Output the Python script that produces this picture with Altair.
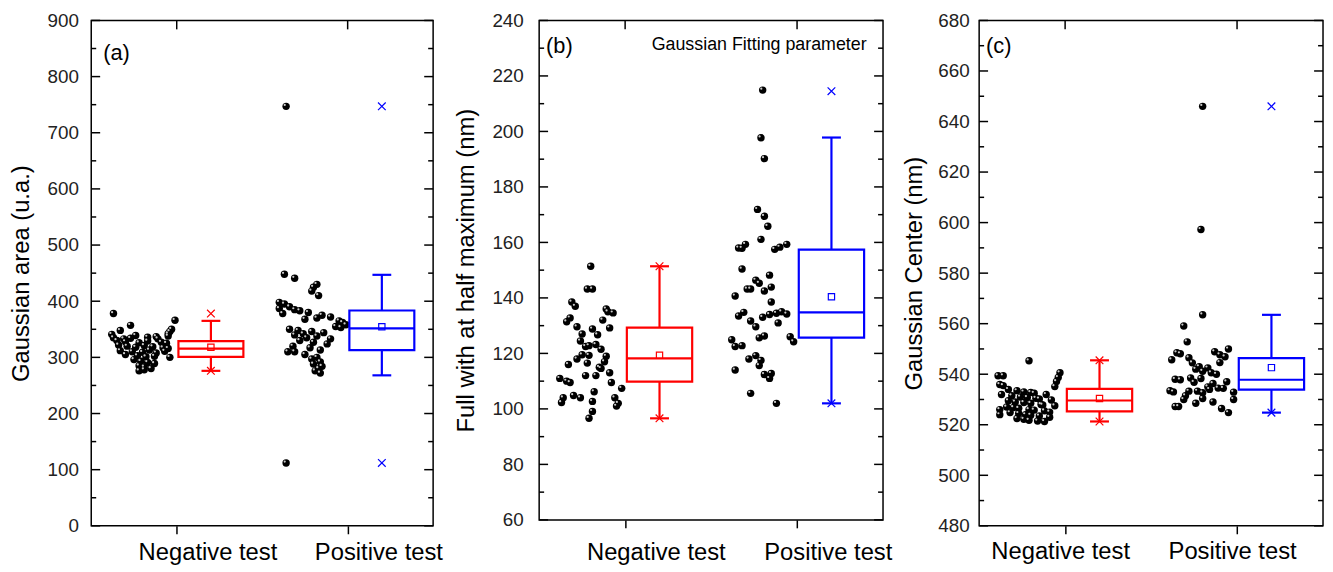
import altair as alt
import pandas as pd

FONT = "Liberation Sans"
CATEGORIES = ["Negative test", "Positive test"]
GROUPS = ["neg", "pos"]
COLORS = ["#ff0000", "#0000ff"]

# ---------------- panel (a): Gaussian area ----------------
a_neg_y = [378, 366, 357, 348, 350, 346, 342, 338, 341, 339, 335, 333, 334, 336, 337, 333, 330, 328, 326, 329,
           327, 325, 322, 320, 318, 321, 319, 317, 316, 312, 310, 309, 313, 308, 311, 305, 303, 301, 302, 300,
           296, 293, 291, 289, 285, 283, 280, 278, 276]
a_neg_x = [0.63, 0.99, 0.73, 0.67, 0.97, 0.96, 0.95, 0.95, 0.62, 0.76, 0.63, 0.69, 0.73, 0.83, 0.88, 0.89, 0.65, 0.70, 0.78, 0.83,
           0.91, 0.94, 0.66, 0.71, 0.76, 0.81, 0.86, 0.92, 0.95, 0.67, 0.74, 0.80, 0.84, 0.88, 0.93, 0.70, 0.77, 0.82, 0.87, 0.96,
           0.75, 0.79, 0.83, 0.87, 0.78, 0.81, 0.85, 0.81, 0.78]
a_pos_y = [747, 112, 448, 441, 430, 425, 418, 410, 398, 395, 390, 387, 385, 383, 380, 378, 375, 372, 370, 368,
           365, 362, 358, 355, 353, 350, 348, 346, 344, 342, 340, 338, 335, 333, 330, 327, 324, 320, 317, 313,
           310, 310, 305, 300, 297, 292, 288, 284, 280, 276, 272]
a_pos_x = [1.64, 1.64, 1.63, 1.69, 1.82, 1.80, 1.79, 1.83, 1.60, 1.63, 1.66, 1.60, 1.69, 1.72, 1.77, 1.62, 1.85, 1.90, 1.82, 1.75,
           1.95, 1.97, 1.99, 1.93, 1.96, 1.66, 1.71, 1.79, 1.86, 1.74, 1.69, 1.82, 1.76, 1.90, 1.72, 1.80, 1.88, 1.68, 1.78, 1.84,
           1.65, 1.69, 1.75, 1.82, 1.79, 1.84, 1.80, 1.85, 1.83, 1.81, 1.84]
# box statistics [negative, positive]
a_q1 = [301, 313]
a_med = [315.5, 351.5]
a_q3 = [329, 383.5]
a_mean = [318, 354.5]
a_wlo = [276, 268]
a_whi = [365, 447]
a_min = [276, 112]
a_max = [378, 747]

# ---------------- panel (b): FWHM ----------------
b_neg_y = [151.4, 143.2, 143.2, 138.5, 137.0, 136.0, 135.0, 134.6, 132.8, 131.4, 132.0, 129.6, 129.2, 128.8, 127.0, 124.5, 126.7,
           122.5, 122.8, 123.2, 121.5, 119.5, 119.3, 119.0, 117.0, 118.0, 116.0, 116.5, 115.0, 114.6, 113.0, 112.0, 112.0,
           111.0, 110.0, 109.5, 109.5, 107.4, 106.2, 104.8, 104.0, 104.0, 102.3, 104.0, 102.0, 101.0, 102.7, 99.1, 96.6]
b_neg_x = [0.80, 0.78, 0.81, 0.69, 0.71, 0.89, 0.90, 0.93, 0.68, 0.66, 0.87, 0.72, 0.91, 0.81, 0.75, 0.74, 0.84,
           0.77, 0.79, 0.83, 0.86, 0.75, 0.79, 0.89, 0.88, 0.72, 0.67, 0.78, 0.85, 0.86, 0.91, 0.77, 0.83,
           0.62, 0.66, 0.68, 0.92, 0.98, 0.82, 0.70, 0.74, 0.64, 0.63, 0.94, 0.96, 0.95, 0.81, 0.81, 0.79]
b_pos_y = [214.9, 197.7, 190.2, 171.9, 169.4, 165.8, 161.1, 159.3, 157.9, 157.5, 158.3, 159.3, 150.4, 148.2, 146.4, 145.3,
           142.5, 143.9, 143.2, 143.2, 138.5, 134.8, 133.5, 131.7, 133.0, 134.0, 134.5, 135.0, 134.2, 131.0, 129.6, 125.6,
           126.3, 126.0, 124.2, 122.8, 119.2, 117.5, 118.0, 115.6, 112.4, 111.0, 112.8, 105.6, 102.0, 124.9, 122.5, 140.7,
           158.0, 114.0]
b_pos_x = [1.80, 1.79, 1.81, 1.77, 1.81, 1.83, 1.79, 1.70, 1.68, 1.87, 1.90, 1.94, 1.68, 1.84, 1.76, 1.78,
           1.81, 1.85, 1.73, 1.71, 1.85, 1.69, 1.66, 1.73, 1.80, 1.84, 1.88, 1.91, 1.94, 1.89, 1.76, 1.78,
           1.81, 1.96, 1.98, 1.68, 1.76, 1.79, 1.72, 1.78, 1.81, 1.84, 1.85, 1.73, 1.88, 1.62, 1.64, 1.64,
           1.66, 1.64]
b_q1 = [109.8, 125.7]
b_med = [118.2, 134.8]
b_q3 = [129.3, 157.4]
b_mean = [119.3, 140.4]
b_wlo = [96.6, 102.0]
b_whi = [151.4, 197.8]
b_min = [96.6, 102.0]
b_max = [151.4, 214.5]

# ---------------- panel (c): Gaussian center ----------------
c_neg_y = [545.3, 539.4, 539.4, 535.9, 535.5, 540.6, 538.7, 537.1, 535.1,
           533.5, 533.0, 532.8, 532.5, 532.0, 531.5, 531.0, 530.8, 530.5, 530.2, 529.8, 529.5, 529.0, 528.8, 528.5,
           528.0, 527.8, 527.5, 527.0, 526.8, 526.5, 526.0, 525.8, 525.5, 525.0, 524.8, 524.5, 524.0, 523.8, 523.5,
           523.0, 522.5, 522.2, 521.8, 521.5, 521.3, 534.0, 532.0, 526.0, 524.0]
c_neg_x = [0.79, 0.61, 0.64, 0.62, 0.64, 0.97, 0.96, 0.95, 0.94,
           0.72, 0.76, 0.80, 0.82, 0.89, 0.69, 0.74, 0.78, 0.83, 0.85, 0.92, 0.67, 0.71, 0.76, 0.80,
           0.86, 0.87, 0.94, 0.66, 0.70, 0.73, 0.79, 0.82, 0.88, 0.91, 0.68, 0.73, 0.77, 0.80, 0.85,
           0.91, 0.72, 0.76, 0.79, 0.84, 0.88, 0.67, 0.63, 0.62, 0.62]
c_pos_y = [646.0, 597.3, 563.5, 559.1, 552.8, 548.5, 548.1, 548.9, 547.7, 546.9, 550.0,
           546.5, 544.5, 542.0, 543.0, 541.2, 542.5, 540.6, 544.6,
           537.8, 538.5, 536.8, 538.3, 535.0, 534.0, 536.3, 534.5, 534.4, 537.0,
           533.5, 533.0, 533.3, 533.3, 532.7, 532.9, 530.0, 531.5, 530.4, 530.0,
           527.2, 527.2, 526.4, 524.8, 545.7, 538.0, 540.0, 528.5, 529.0]
c_pos_x = [1.80, 1.79, 1.80, 1.69, 1.71, 1.65, 1.67, 1.87, 1.90, 1.93, 1.95,
           1.72, 1.74, 1.76, 1.78, 1.80, 1.83, 1.85, 1.90,
           1.67, 1.73, 1.75, 1.79, 1.83, 1.84, 1.86, 1.89, 1.92, 1.94,
           1.61, 1.63, 1.72, 1.77, 1.80, 1.98, 1.69, 1.70, 1.80, 1.98,
           1.64, 1.66, 1.91, 1.95, 1.62, 1.64, 1.88, 1.76, 1.86]
c_q1 = [525.3, 533.9]
c_med = [529.6, 537.8]
c_q3 = [534.2, 546.4]
c_mean = [530.4, 542.6]
c_wlo = [521.3, 524.8]
c_whi = [545.5, 563.5]
c_min = [521.3, 524.8]
c_max = [545.5, 646.0]

BOX_X = [1.2, 2.2]
BOX_HALF = 0.19
CAP_HALF = 0.055
X_DOMAIN = [0.5, 2.5]

color_enc = alt.Color("grp:N", scale=alt.Scale(domain=GROUPS, range=COLORS), legend=None)


def make_panel(neg_y, neg_x, pos_y, pos_x, q1, med, q3, mean, wlo, whi, mn, mx,
               ydom, major, minor, ytitle, w, h, label_dx, xlab_pad, ylab_pad, title_pad,
               tag, tag_x, tag_y, note=None):
    xs = alt.Scale(domain=X_DOMAIN, nice=False, zero=False)
    ys = alt.Scale(domain=ydom, nice=False, zero=False)

    label_expr = "datum.value == 1 ? '%s' : '%s'" % (CATEGORIES[0], CATEGORIES[1])
    xaxis = alt.Axis(values=[1, 2], labelExpr=label_expr, ticks=True, tickSize=8, tickWidth=1.5,
                     tickColor="black", domain=False, grid=False, labelFont=FONT, labelFontSize=24,
                     labelColor="black", labelPadding=xlab_pad, labelOffset=label_dx, labelFlush=False,
                     labelOverlap=False, title=None)
    yaxis = alt.Axis(values=major, ticks=False, domain=False, grid=False, labelFont=FONT,
                     labelFontSize=19, labelColor="#222222", labelPadding=ylab_pad, labelFlush=False,
                     labelOverlap=False, title=ytitle, titleFont=FONT, titleFontSize=24,
                     titleFontWeight="normal", titleColor="black", titlePadding=title_pad)

    def X(f):
        return alt.X(f, type="quantitative", scale=xs, axis=xaxis, title=None)

    def Y(f):
        return alt.Y(f, type="quantitative", scale=ys, axis=yaxis, title=ytitle)

    pts = pd.DataFrame({"x": neg_x + pos_x, "y": neg_y + pos_y})
    box = pd.DataFrame({"grp": GROUPS, "xc": BOX_X, "q1": q1, "med": med, "q3": q3, "mean": mean,
                        "wlo": wlo, "whi": whi, "mn": mn, "mx": mx})
    box["x1"] = box["xc"] - BOX_HALF
    box["x2"] = box["xc"] + BOX_HALF
    box["c1"] = box["xc"] - CAP_HALF
    box["c2"] = box["xc"] + CAP_HALF

    dots = alt.Chart(pts).mark_circle(size=56, color="black", opacity=1).encode(x=X("x"), y=Y("y"))
    shine = alt.Chart(pts).mark_circle(size=5, color="#e0e0e0", opacity=0.9,
                                       xOffset=-1.4, yOffset=-1.4).encode(x=X("x"), y=Y("y"))

    bc = alt.Chart(box)
    rect = bc.mark_rect(filled=False, strokeWidth=2.2).encode(x=X("x1"), x2="x2", y=Y("q1"), y2="q3", color=color_enc)
    medl = bc.mark_rule(strokeWidth=2.2).encode(x=X("x1"), x2="x2", y=Y("med"), color=color_enc)
    wup = bc.mark_rule(strokeWidth=2.2).encode(x=X("xc"), y=Y("q3"), y2="whi", color=color_enc)
    wdn = bc.mark_rule(strokeWidth=2.2).encode(x=X("xc"), y=Y("wlo"), y2="q1", color=color_enc)
    cup = bc.mark_rule(strokeWidth=2.2).encode(x=X("c1"), x2="c2", y=Y("whi"), color=color_enc)
    cdn = bc.mark_rule(strokeWidth=2.2).encode(x=X("c1"), x2="c2", y=Y("wlo"), color=color_enc)
    meanm = bc.mark_point(shape="square", filled=False, size=40, strokeWidth=1.2, opacity=1).encode(
        x=X("xc"), y=Y("mean"), color=color_enc)
    xshape = "M-1,-1L1,1M1,-1L-1,1"
    mxm = bc.mark_point(shape=xshape, filled=False, size=60, strokeWidth=1.2, opacity=1).encode(
        x=X("xc"), y=Y("mx"), color=color_enc)
    mnm = bc.mark_point(shape=xshape, filled=False, size=60, strokeWidth=1.2, opacity=1).encode(
        x=X("xc"), y=Y("mn"), color=color_enc)

    # inward frame ticks
    maj = pd.DataFrame({"y": major})
    mnr = pd.DataFrame({"y": minor})
    tl_maj = alt.Chart(maj).mark_rule(color="black", strokeWidth=1.5).encode(
        y=Y("y"), x=alt.value(0), x2=alt.value(9))
    tr_maj = alt.Chart(maj).mark_rule(color="black", strokeWidth=1.5).encode(
        y=Y("y"), x=alt.value(w), x2=alt.value(w - 9))
    tl_min = alt.Chart(mnr).mark_rule(color="black", strokeWidth=1.5).encode(
        y=Y("y"), x=alt.value(0), x2=alt.value(5))
    tr_min = alt.Chart(mnr).mark_rule(color="black", strokeWidth=1.5).encode(
        y=Y("y"), x=alt.value(w), x2=alt.value(w - 5))
    top_t = alt.Chart(pd.DataFrame({"x": [1, 2]})).mark_rule(color="black", strokeWidth=1.5).encode(
        x=X("x"), y=alt.value(0), y2=alt.value(9))

    tagc = alt.Chart(pd.DataFrame({"t": [tag]})).mark_text(
        font=FONT, fontSize=22, align="left", baseline="middle", color="black").encode(
        text="t:N", x=alt.value(tag_x), y=alt.value(tag_y))

    layers = [dots, shine, rect, medl, wup, wdn, cup, cdn, meanm, mxm, mnm,
              tl_maj, tr_maj, tl_min, tr_min, top_t, tagc]
    if note is not None:
        notec = alt.Chart(pd.DataFrame({"t": [note[0]]})).mark_text(
            font=FONT, fontSize=18, align="center", baseline="middle", color="black").encode(
            text="t:N", x=alt.value(note[1]), y=alt.value(note[2]))
        layers.append(notec)
    return alt.layer(*layers).properties(width=w, height=h)


a_major = list(range(0, 901, 100))
a_minor = list(range(50, 900, 100))
b_major = list(range(60, 241, 20))
b_minor = list(range(70, 240, 20))
c_major = list(range(480, 681, 20))
c_minor = list(range(490, 680, 20))

pa = make_panel(a_neg_y, a_neg_x, a_pos_y, a_pos_x, a_q1, a_med, a_q3, a_mean, a_wlo, a_whi, a_min, a_max,
                [0, 900], a_major, a_minor, "Gaussian area (u.a.)", 345, 510, 31, 7, 13, 14,
                "(a)", 12, 33)
pb = make_panel(b_neg_y, b_neg_x, b_pos_y, b_pos_x, b_q1, b_med, b_q3, b_mean, b_wlo, b_whi, b_min, b_max,
                [60, 240], b_major, b_minor, "Full with at half maximum (nm)", 347, 504, 31, 13, 16, 14,
                "(b)", 7, 26, note=("Gaussian Fitting parameter", 222, 25))
pc = make_panel(c_neg_y, c_neg_x, c_pos_y, c_pos_x, c_q1, c_med, c_q3, c_mean, c_wlo, c_whi, c_min, c_max,
                [480, 680], c_major, c_minor, "Gaussian Center (nm)", 347, 510, -5, 6, 10, 11,
                "(c)", 7, 26)

chart = alt.hconcat(pa, pb, pc, spacing=9).configure_view(
    stroke="black", strokeWidth=1.5).properties(padding={"left": 0, "top": 0, "right": 0, "bottom": 0})

chart.save("out.html", embed_options={"renderer": "svg", "actions": False})
